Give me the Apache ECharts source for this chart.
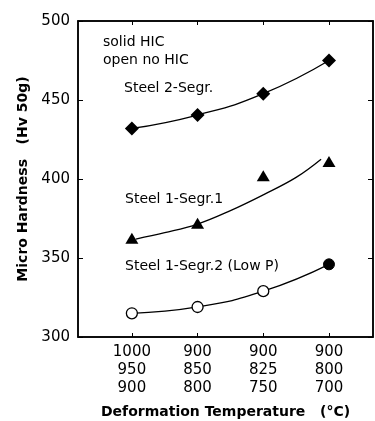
<!DOCTYPE html>
<html>
<head>
<meta charset="utf-8">
<script src="https://cdn.jsdelivr.net/npm/echarts@6/dist/echarts.min.js"></script>
<style>
  html, body { margin: 0; padding: 0; background: #fff; }
  #chart { width: 375px; height: 421px; }
</style>
</head>
<body>
<div id="chart"></div>
<script>
// x positions of the four deformation schedules
var catPos = [1, 2, 3, 4];
var catLabels = ['1000\n950\n900', '900\n850\n800', '900\n825\n750', '900\n800\n700'];
var yTicks = [300, 350, 400, 450, 500];

// micro hardness (Hv 50g)
var steel2 = [432, 440.5, 454, 475];
var steel1s1 = [362.5, 372, 402, 411];
// hand-drawn fit curve through Steel 1-Segr.1
var steel1s1Fit = [[1.06, 362], [1.5, 366], [2, 371.5], [2.5, 380], [3, 390], [3.5, 401], [3.88, 412.5]];
var steel1s2 = [315, 319, 329, 346];
var steel1s2Hic = [false, false, false, true]; // solid = HIC

var font = 'DejaVu Sans';

function pairs(vals) {
    return vals.map(function (v, i) { return [catPos[i], v]; });
}

var option = {
    animation: false,
    textStyle: { fontFamily: font, color: '#000' },
    grid: {
        left: 78, right: 2, top: 21, bottom: 84,
        outerBoundsMode: 'none',
        containLabel: false,
        show: true, borderColor: '#000', borderWidth: 1.5
    },
    xAxis: [{
        type: 'value',
        min: 0.18, max: 4.67,
        name: 'Deformation Temperature   (°C)',
        nameLocation: 'middle',
        nameGap: 68,
        nameTextStyle: { fontSize: 14, fontWeight: 'bold', color: '#000' },
        axisLine: { lineStyle: { color: '#000', width: 1.5 } },
        axisTick: { inside: true, length: 4, customValues: catPos, lineStyle: { color: '#000' } },
        axisLabel: {
            customValues: catPos,
            fontSize: 15, lineHeight: 18, color: '#000', margin: 6,
            formatter: function (v) { return catLabels[Math.round(v) - 1]; }
        },
        splitLine: { show: false }
    }, {
        type: 'value',
        position: 'top',
        min: 0.18, max: 4.67,
        axisLine: { lineStyle: { color: '#000', width: 1.5 } },
        axisTick: { inside: true, length: 4, customValues: catPos, lineStyle: { color: '#000' } },
        axisLabel: { show: false },
        splitLine: { show: false }
    }],
    yAxis: [{
        type: 'value',
        min: 300, max: 500, interval: 50,
        name: 'Micro Hardness   (Hv 50g)',
        nameLocation: 'middle',
        nameRotate: 90,
        nameGap: 48,
        nameTextStyle: { fontSize: 14, fontWeight: 'bold', color: '#000' },
        axisLine: { show: true, lineStyle: { color: '#000', width: 1.5 } },
        axisTick: { show: true, inside: true, length: 5, lineStyle: { color: '#000' } },
        axisLabel: { fontSize: 15, color: '#000', margin: 8 },
        splitLine: { show: false }
    }, {
        type: 'value',
        position: 'right',
        min: 300, max: 500, interval: 50,
        axisLine: { show: true, lineStyle: { color: '#000', width: 1.5 } },
        axisTick: { show: true, inside: true, length: 5, lineStyle: { color: '#000' } },
        axisLabel: { show: false },
        splitLine: { show: false }
    }],
    series: [{
        name: 'Steel 2-Segr.',
        type: 'line',
        smooth: true,
        data: pairs(steel2),
        symbol: 'diamond',
        symbolSize: [14, 14],
        itemStyle: { color: '#000' },
        lineStyle: { color: '#000', width: 1.3 }
    }, {
        name: 'Steel 1-Segr.1 fit',
        type: 'line',
        smooth: 0.4,
        data: steel1s1Fit,
        symbol: 'none',
        lineStyle: { color: '#000', width: 1.3 }
    }, {
        name: 'Steel 1-Segr.1',
        type: 'scatter',
        data: pairs(steel1s1),
        symbol: 'triangle',
        symbolSize: [13, 11],
        itemStyle: { color: '#000', opacity: 1 }
    }, {
        name: 'Steel 1-Segr.2 (Low P)',
        type: 'line',
        smooth: true,
        data: steel1s2.map(function (v, i) {
            return {
                value: [catPos[i], v],
                itemStyle: steel1s2Hic[i]
                    ? { color: '#000', borderColor: '#000' }
                    : { color: '#fff', borderColor: '#000', borderWidth: 1.3 }
            };
        }),
        symbol: 'circle',
        symbolSize: 11,
        showAllSymbol: true,
        lineStyle: { color: '#000', width: 1.3 }
    }],
    graphic: [
        { type: 'text', left: 103, top: 35, style: { text: 'solid HIC', font: '14px "DejaVu Sans"', fill: '#000' } },
        { type: 'text', left: 103, top: 53, style: { text: 'open no HIC', font: '14px "DejaVu Sans"', fill: '#000' } },
        { type: 'text', left: 124, top: 81, style: { text: 'Steel 2-Segr.', font: '14px "DejaVu Sans"', fill: '#000' } },
        { type: 'text', left: 125, top: 192, style: { text: 'Steel 1-Segr.1', font: '14px "DejaVu Sans"', fill: '#000' } },
        { type: 'text', left: 125, top: 259, style: { text: 'Steel 1-Segr.2 (Low P)', font: '14px "DejaVu Sans"', fill: '#000' } }
    ]
};

var chart = echarts.init(document.getElementById('chart'));
chart.setOption(option);
</script>
</body>
</html>
